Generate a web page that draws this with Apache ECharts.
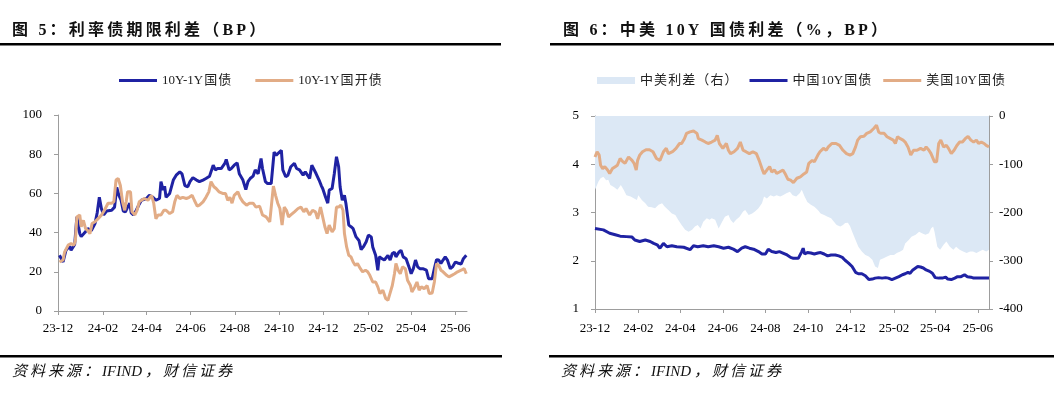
<!DOCTYPE html>
<html>
<head>
<meta charset="utf-8">
<script src="https://cdn.jsdelivr.net/npm/echarts@6/dist/echarts.min.js"></script>
<style>
html,body{margin:0;padding:0;background:#fff;}
#c{width:1054px;height:394px;}
</style>
</head>
<body>
<div id="c"></div>
<script>
// ---------- DATA ----------
const tickDates = ['2023-12-01','2024-02-01','2024-04-01','2024-06-01','2024-08-01','2024-10-01','2024-12-01','2025-02-01','2025-04-01','2025-06-01'];
const tickLabels = ['23-12','24-02','24-04','24-06','24-08','24-10','24-12','25-02','25-04','25-06'];
const xMinDate = '2023-12-01';
const xMaxDate = '2025-06-17';

// 图5: 10Y-1Y 国债 (BP)
const cgbTerm = [['2023-12-03',28.4],['2023-12-08',25],['2023-12-12',31],['2023-12-17',33],['2023-12-19',31],['2023-12-24',34],['2023-12-27',48],['2023-12-31',39.5],['2024-01-02',38],['2024-01-07',40],['2024-01-11',42],['2024-01-16',41],['2024-01-21',44.6],['2024-01-24',50],['2024-01-27',58],['2024-01-30',52],['2024-02-02',49],['2024-02-06',51],['2024-02-13',51.4],['2024-02-17',53],['2024-02-20',63],['2024-02-23',59],['2024-02-26',56.5],['2024-02-29',51],['2024-03-03',50.6],['2024-03-06',53],['2024-03-09',55],['2024-03-11',50],['2024-03-14',49],['2024-03-18',51.4],['2024-03-22',54.5],['2024-03-25',56.5],['2024-04-01',57.4],['2024-04-05',59],['2024-04-10',58],['2024-04-14',56.5],['2024-04-19',57.4],['2024-04-21',66],['2024-04-24',61.7],['2024-04-26',63.7],['2024-04-28',58],['2024-05-03',60],['2024-05-05',60],['2024-05-08',66.8],['2024-05-12',69.3],['2024-05-17',71],['2024-05-20',70],['2024-05-24',64],['2024-05-28',63.4],['2024-05-31',66],['2024-06-04',68],['2024-06-09',66.8],['2024-06-13',66],['2024-06-18',66.8],['2024-06-22',67.6],['2024-06-27',68.8],['2024-07-02',74.4],['2024-07-05',72],['2024-07-08',72.7],['2024-07-13',72.7],['2024-07-18',75.3],['2024-07-20',77.3],['2024-07-24',72],['2024-07-27',72.7],['2024-07-31',74.4],['2024-08-04',75.6],['2024-08-07',70],['2024-08-12',66.8],['2024-08-16',62],['2024-08-19',66],['2024-08-22',67.6],['2024-08-26',68.8],['2024-08-29',72],['2024-09-02',70],['2024-09-06',77.8],['2024-09-08',72.7],['2024-09-12',66],['2024-09-15',65],['2024-09-20',65],['2024-09-24',81],['2024-09-27',79.5],['2024-09-29',80.4],['2024-10-04',82],['2024-10-06',72],['2024-10-10',68.5],['2024-10-13',69.3],['2024-10-17',73.6],['2024-10-22',75.3],['2024-10-25',72.7],['2024-10-29',72],['2024-11-03',69.3],['2024-11-06',71],['2024-11-12',67.6],['2024-11-15',74.4],['2024-11-17',75.3],['2024-11-21',70],['2024-11-25',66.8],['2024-11-28',64],['2024-11-30',62.5],['2024-12-04',58],['2024-12-07',55],['2024-12-09',61.7],['2024-12-13',62.5],['2024-12-16',70],['2024-12-19',78.7],['2024-12-22',73.6],['2024-12-24',63.4],['2024-12-27',56.5],['2024-12-30',59],['2025-01-01',55],['2025-01-05',43.8],['2025-01-08',43],['2025-01-11',42],['2025-01-15',37.8],['2025-01-19',36],['2025-01-22',31.3],['2025-01-25',32.7],['2025-01-29',35.3],['2025-02-01',38.7],['2025-02-05',37.8],['2025-02-07',32.7],['2025-02-11',28.4],['2025-02-14',20.8],['2025-02-16',27.6],['2025-02-20',26.7],['2025-02-23',26],['2025-02-28',28.4],['2025-03-03',26],['2025-03-06',29.3],['2025-03-09',30],['2025-03-11',27.6],['2025-03-15',30],['2025-03-18',31],['2025-03-21',27.6],['2025-03-25',26.7],['2025-03-29',22.5],['2025-04-01',19],['2025-04-04',21.6],['2025-04-07',26],['2025-04-10',22.5],['2025-04-13',21.6],['2025-04-17',21.6],['2025-04-22',20.8],['2025-04-25',16.5],['2025-04-30',16.5],['2025-05-03',21.6],['2025-05-06',26.2],['2025-05-09',26],['2025-05-12',24.2],['2025-05-15',26],['2025-05-18',27.6],['2025-05-21',26],['2025-05-25',21.6],['2025-05-28',22.5],['2025-06-01',25],['2025-06-04',24.5],['2025-06-09',24],['2025-06-12',26.7],['2025-06-16',28.4]];

// 图5: 10Y-1Y 国开债 (BP)
const cdbTerm = [['2023-12-03',25],['2023-12-08',26],['2023-12-10',30],['2023-12-15',33.6],['2023-12-19',34.4],['2023-12-23',33.6],['2023-12-25',36],['2023-12-27',48],['2023-12-31',49],['2024-01-02',43],['2024-01-05',46.3],['2024-01-08',42],['2024-01-11',41],['2024-01-14',39.5],['2024-01-17',44.6],['2024-01-21',45.5],['2024-01-25',47],['2024-01-30',49],['2024-02-03',51.4],['2024-02-08',55],['2024-02-13',55],['2024-02-16',55.7],['2024-02-19',66.8],['2024-02-22',67.6],['2024-02-25',64],['2024-02-28',55.7],['2024-03-02',51.4],['2024-03-04',55.7],['2024-03-06',60.8],['2024-03-10',60.8],['2024-03-12',50.6],['2024-03-16',49],['2024-03-19',51.4],['2024-03-22',55.7],['2024-03-25',56.5],['2024-03-29',57.4],['2024-04-03',56.5],['2024-04-08',59],['2024-04-11',55],['2024-04-14',47],['2024-04-17',49],['2024-04-21',49],['2024-04-25',51.4],['2024-04-28',51.4],['2024-05-03',49.7],['2024-05-07',50.6],['2024-05-10',55.7],['2024-05-13',59],['2024-05-17',57.4],['2024-05-21',58],['2024-05-26',57.4],['2024-05-30',58],['2024-06-03',59],['2024-06-06',56.5],['2024-06-10',53.5],['2024-06-13',54],['2024-06-18',55.7],['2024-06-22',58],['2024-06-26',60.8],['2024-06-29',66],['2024-07-03',63.4],['2024-07-06',62.5],['2024-07-10',60.8],['2024-07-15',60],['2024-07-19',60],['2024-07-22',56.5],['2024-07-25',58],['2024-07-28',55],['2024-07-31',59],['2024-08-05',60.8],['2024-08-08',58],['2024-08-12',55.7],['2024-08-17',54],['2024-08-21',55],['2024-08-26',55],['2024-08-30',53],['2024-09-04',53.5],['2024-09-08',49],['2024-09-13',48],['2024-09-18',45.5],['2024-09-20',44.6],['2024-09-23',63.7],['2024-09-26',59],['2024-09-29',55],['2024-10-02',52.3],['2024-10-05',43.8],['2024-10-08',53],['2024-10-11',51.4],['2024-10-14',48],['2024-10-17',49],['2024-10-22',50.6],['2024-10-27',52.3],['2024-10-31',53],['2024-11-04',50.6],['2024-11-07',52.3],['2024-11-12',49],['2024-11-16',51.4],['2024-11-20',50.6],['2024-11-23',47],['2024-11-27',53],['2024-11-29',54],['2024-12-03',43],['2024-12-06',39.5],['2024-12-09',43.8],['2024-12-13',40.4],['2024-12-16',42],['2024-12-19',53],['2024-12-22',53],['2024-12-25',54],['2024-12-28',51.4],['2024-12-30',39.5],['2025-01-02',32.7],['2025-01-05',28.4],['2025-01-08',27.6],['2025-01-11',25],['2025-01-14',23.3],['2025-01-17',24.2],['2025-01-21',21.6],['2025-01-24',20],['2025-01-28',20.8],['2025-01-31',20],['2025-02-03',18.2],['2025-02-07',14.8],['2025-02-11',14.8],['2025-02-14',12.3],['2025-02-17',8.9],['2025-02-21',10.6],['2025-02-25',6.3],['2025-02-28',5.5],['2025-03-02',8],['2025-03-06',13],['2025-03-09',19],['2025-03-11',24.2],['2025-03-14',20.8],['2025-03-17',19],['2025-03-20',22.5],['2025-03-24',21.6],['2025-03-27',15.7],['2025-03-31',13],['2025-04-02',9.7],['2025-04-06',12.3],['2025-04-09',14.8],['2025-04-12',10.6],['2025-04-15',12.3],['2025-04-19',11.4],['2025-04-23',13],['2025-04-26',8.9],['2025-04-30',9.2],['2025-05-03',14.8],['2025-05-06',24.2],['2025-05-09',23.3],['2025-05-12',20.8],['2025-05-15',20],['2025-05-20',18.2],['2025-05-23',17.4],['2025-05-27',18.2],['2025-05-31',19],['2025-06-04',20],['2025-06-09',20.8],['2025-06-13',21.6],['2025-06-16',19]];

// 图6: 中国10Y国债 (%)
const cn10y = [['2023-12-01',2.67],['2023-12-13',2.64],['2023-12-22',2.57],['2023-12-30',2.54],['2024-01-06',2.51],['2024-01-15',2.50],['2024-01-23',2.49],['2024-01-27',2.43],['2024-02-03',2.40],['2024-02-11',2.43],['2024-02-18',2.40],['2024-02-23',2.36],['2024-02-28',2.33],['2024-03-03',2.26],['2024-03-08',2.36],['2024-03-13',2.29],['2024-03-20',2.31],['2024-03-27',2.29],['2024-04-06',2.28],['2024-04-15',2.23],['2024-04-20',2.31],['2024-04-26',2.29],['2024-05-04',2.31],['2024-05-11',2.29],['2024-05-19',2.31],['2024-05-26',2.29],['2024-06-02',2.26],['2024-06-09',2.28],['2024-06-16',2.24],['2024-06-22',2.19],['2024-06-28',2.26],['2024-07-03',2.29],['2024-07-09',2.26],['2024-07-15',2.24],['2024-07-22',2.19],['2024-07-27',2.14],['2024-08-01',2.14],['2024-08-05',2.24],['2024-08-10',2.19],['2024-08-16',2.17],['2024-08-21',2.19],['2024-08-26',2.16],['2024-09-01',2.12],['2024-09-06',2.07],['2024-09-10',2.05],['2024-09-17',2.05],['2024-09-22',2.19],['2024-09-24',2.26],['2024-09-26',2.14],['2024-09-30',2.17],['2024-10-05',2.16],['2024-10-10',2.14],['2024-10-15',2.16],['2024-10-19',2.17],['2024-10-24',2.14],['2024-10-29',2.10],['2024-11-03',2.12],['2024-11-09',2.12],['2024-11-14',2.10],['2024-11-19',2.07],['2024-11-23',2.01],['2024-11-28',1.95],['2024-12-03',1.88],['2024-12-08',1.76],['2024-12-12',1.73],['2024-12-17',1.73],['2024-12-22',1.69],['2024-12-27',1.61],['2025-01-01',1.62],['2025-01-05',1.64],['2025-01-10',1.65],['2025-01-15',1.64],['2025-01-20',1.65],['2025-01-24',1.64],['2025-01-29',1.61],['2025-02-03',1.64],['2025-02-08',1.67],['2025-02-13',1.71],['2025-02-17',1.73],['2025-02-21',1.76],['2025-02-24',1.74],['2025-02-28',1.81],['2025-03-04',1.85],['2025-03-07',1.88],['2025-03-11',1.87],['2025-03-15',1.85],['2025-03-19',1.81],['2025-03-24',1.78],['2025-03-28',1.74],['2025-04-01',1.65],['2025-04-06',1.64],['2025-04-11',1.64],['2025-04-16',1.66],['2025-04-19',1.62],['2025-04-24',1.61],['2025-04-29',1.64],['2025-05-03',1.67],['2025-05-08',1.67],['2025-05-13',1.71],['2025-05-17',1.67],['2025-05-22',1.66],['2025-05-26',1.64],['2025-06-02',1.64],['2025-06-10',1.64],['2025-06-17',1.64]];

// 图6: 美国10Y国债 (%)
const us10y = [['2023-12-01',4.15],['2023-12-04',4.26],['2023-12-07',4.19],['2023-12-09',3.98],['2023-12-12',3.91],['2023-12-15',3.95],['2023-12-19',3.88],['2023-12-22',3.81],['2023-12-26',3.91],['2023-12-30',3.95],['2024-01-02',3.98],['2024-01-06',4.12],['2024-01-10',4.05],['2024-01-13',4.02],['2024-01-18',4.15],['2024-01-23',4.08],['2024-01-26',4.02],['2024-01-29',3.88],['2024-01-31',4.08],['2024-02-03',4.19],['2024-02-07',4.26],['2024-02-12',4.30],['2024-02-17',4.30],['2024-02-22',4.26],['2024-02-27',4.12],['2024-03-03',4.08],['2024-03-08',4.26],['2024-03-12',4.33],['2024-03-15',4.22],['2024-03-21',4.26],['2024-03-26',4.33],['2024-03-31',4.43],['2024-04-03',4.43],['2024-04-07',4.53],['2024-04-10',4.64],['2024-04-15',4.67],['2024-04-20',4.69],['2024-04-25',4.64],['2024-04-27',4.53],['2024-05-02',4.50],['2024-05-07',4.46],['2024-05-11',4.43],['2024-05-16',4.46],['2024-05-21',4.50],['2024-05-24',4.60],['2024-05-27',4.43],['2024-06-01',4.33],['2024-06-06',4.43],['2024-06-09',4.29],['2024-06-12',4.22],['2024-06-17',4.26],['2024-06-22',4.33],['2024-06-26',4.46],['2024-06-30',4.29],['2024-07-04',4.26],['2024-07-09',4.22],['2024-07-14',4.26],['2024-07-19',4.22],['2024-07-23',4.08],['2024-07-27',3.91],['2024-07-30',3.80],['2024-08-03',3.88],['2024-08-07',3.95],['2024-08-10',3.84],['2024-08-14',3.88],['2024-08-17',3.81],['2024-08-21',3.84],['2024-08-26',3.88],['2024-08-29',3.81],['2024-09-02',3.69],['2024-09-06',3.67],['2024-09-10',3.62],['2024-09-15',3.71],['2024-09-20',3.74],['2024-09-25',3.80],['2024-09-29',3.84],['2024-10-02',4.02],['2024-10-07',4.08],['2024-10-10',4.05],['2024-10-15',4.19],['2024-10-18',4.26],['2024-10-23',4.33],['2024-10-27',4.29],['2024-10-30',4.36],['2024-11-04',4.43],['2024-11-10',4.43],['2024-11-15',4.39],['2024-11-20',4.29],['2024-11-25',4.22],['2024-11-30',4.19],['2024-12-04',4.22],['2024-12-08',4.36],['2024-12-11',4.50],['2024-12-15',4.57],['2024-12-20',4.58],['2024-12-24',4.64],['2024-12-29',4.67],['2025-01-03',4.74],['2025-01-07',4.81],['2025-01-10',4.67],['2025-01-13',4.64],['2025-01-18',4.64],['2025-01-22',4.57],['2025-01-27',4.53],['2025-01-31',4.50],['2025-02-03',4.43],['2025-02-06',4.57],['2025-02-10',4.53],['2025-02-14',4.50],['2025-02-17',4.46],['2025-02-21',4.36],['2025-02-25',4.19],['2025-03-01',4.29],['2025-03-06',4.29],['2025-03-11',4.33],['2025-03-16',4.29],['2025-03-19',4.36],['2025-03-23',4.29],['2025-03-26',4.22],['2025-03-31',4.05],['2025-04-03',4.05],['2025-04-06',4.43],['2025-04-09',4.50],['2025-04-13',4.36],['2025-04-17',4.39],['2025-04-20',4.33],['2025-04-24',4.22],['2025-04-28',4.29],['2025-05-02',4.39],['2025-05-06',4.46],['2025-05-10',4.46],['2025-05-14',4.53],['2025-05-18',4.58],['2025-05-22',4.50],['2025-05-26',4.46],['2025-05-30',4.50],['2025-06-02',4.43],['2025-06-06',4.46],['2025-06-10',4.43],['2025-06-13',4.39],['2025-06-17',4.36]];

// 图6: 中美利差 (BP, 右轴)
const cnUsSpread = [['2023-12-01',-153],['2023-12-03',-157],['2023-12-06',-136],['2023-12-09',-129],['2023-12-13',-126],['2023-12-17',-133],['2023-12-20',-132],['2023-12-23',-143],['2023-12-28',-147],['2024-01-02',-153],['2024-01-07',-143],['2024-01-11',-153],['2024-01-15',-164],['2024-01-21',-167],['2024-01-26',-171],['2024-01-30',-174],['2024-02-01',-164],['2024-02-06',-174],['2024-02-11',-181],['2024-02-15',-188],['2024-02-20',-189],['2024-02-25',-191],['2024-03-01',-184],['2024-03-06',-181],['2024-03-10',-188],['2024-03-15',-195],['2024-03-20',-202],['2024-03-25',-205],['2024-03-29',-215],['2024-04-03',-226],['2024-04-08',-236],['2024-04-13',-240],['2024-04-18',-236],['2024-04-22',-229],['2024-04-26',-226],['2024-04-30',-233],['2024-05-04',-219],['2024-05-09',-212],['2024-05-13',-215],['2024-05-16',-212],['2024-05-21',-215],['2024-05-26',-233],['2024-05-31',-219],['2024-06-04',-209],['2024-06-09',-205],['2024-06-12',-215],['2024-06-16',-222],['2024-06-20',-215],['2024-06-25',-209],['2024-06-30',-198],['2024-07-03',-195],['2024-07-08',-205],['2024-07-13',-202],['2024-07-17',-198],['2024-07-22',-191],['2024-07-27',-181],['2024-07-30',-167],['2024-08-03',-171],['2024-08-08',-164],['2024-08-13',-167],['2024-08-17',-164],['2024-08-22',-167],['2024-08-26',-164],['2024-08-31',-160],['2024-09-05',-157],['2024-09-09',-164],['2024-09-14',-167],['2024-09-19',-160],['2024-09-22',-153],['2024-09-26',-167],['2024-09-30',-178],['2024-10-05',-184],['2024-10-10',-188],['2024-10-15',-195],['2024-10-19',-202],['2024-10-24',-205],['2024-10-29',-209],['2024-11-03',-212],['2024-11-07',-219],['2024-11-11',-226],['2024-11-16',-229],['2024-11-20',-226],['2024-11-23',-222],['2024-11-27',-221],['2024-11-30',-228],['2024-12-04',-243],['2024-12-08',-257],['2024-12-12',-271],['2024-12-17',-281],['2024-12-22',-288],['2024-12-27',-291],['2025-01-01',-298],['2025-01-05',-312],['2025-01-09',-315],['2025-01-12',-298],['2025-01-17',-295],['2025-01-22',-291],['2025-01-27',-288],['2025-02-01',-288],['2025-02-05',-284],['2025-02-10',-281],['2025-02-14',-277],['2025-02-17',-264],['2025-02-22',-257],['2025-02-26',-250],['2025-03-04',-246],['2025-03-09',-240],['2025-03-13',-243],['2025-03-18',-246],['2025-03-23',-243],['2025-03-26',-233],['2025-03-29',-229],['2025-03-31',-240],['2025-04-04',-271],['2025-04-08',-277],['2025-04-13',-267],['2025-04-17',-260],['2025-04-22',-271],['2025-04-27',-277],['2025-05-01',-271],['2025-05-06',-277],['2025-05-11',-281],['2025-05-16',-284],['2025-05-21',-281],['2025-05-25',-281],['2025-05-30',-284],['2025-06-03',-281],['2025-06-08',-277],['2025-06-13',-281],['2025-06-17',-277]];

const names5 = ['10Y-1Y国债','10Y-1Y国开债'];
const names6 = ['中美利差（右）','中国10Y国债','美国10Y国债'];
const title5 = '图 5：利率债期限利差（BP）';
const title6 = '图 6：中美 10Y 国债利差（%，BP）';
const sourceText = '资料来源：IFIND，财信证券';

// ---------- CHART ----------
const BLUE = '#1f22a3';
const TAN = '#e2ac86';
const AREA = '#dce8f5';
const AXIS = '#9d9d9d';
const SERIF = "'Liberation Serif','Times New Roman','Noto Sans CJK SC',serif";
const LINE_ICON = 'path://M0,0H38V3H0Z';
const spaced = s => s.split('').join('\u2009');
const isAscii = c => c.charCodeAt(0) < 128;
// space only where a non-ASCII (CJK) character is involved
const spacedCJK = (s, sp) => {
  const ch = s.split('');
  let out = '';
  ch.forEach((c, i) => {
    out += c;
    if (i < ch.length - 1 && !(isAscii(c) && isAscii(ch[i + 1]))) out += sp;
  });
  return out;
};

const ts = s => echarts.number.parseDate(s).getTime();
const tickTs = tickDates.map(ts);
const toXY = arr => arr.map(d => [ts(d[0]), d[1]]);
const fmtX = v => { const i = tickTs.indexOf(v); return i >= 0 ? tickLabels[i] : ''; };

function xAxisCfg(gi, margin) {
  return {
    type: 'value', gridIndex: gi, min: ts(xMinDate), max: ts(xMaxDate),
    axisLine: { show: true, onZero: false, lineStyle: { color: AXIS, width: 1 } },
    axisTick: { show: true, length: 4, lineStyle: { color: AXIS }, customValues: tickTs },
    axisLabel: { customValues: tickTs, formatter: fmtX, color: '#000', fontFamily: SERIF, fontSize: 13, margin: margin, hideOverlap: false },
    splitLine: { show: false }
  };
}
function yAxisCfg(gi, min, max, interval, pos, margin) {
  return {
    type: 'value', gridIndex: gi, min, max, interval, position: pos,
    axisLine: { show: true, onZero: false, lineStyle: { color: AXIS, width: 1 } },
    axisTick: { show: true, length: 4, lineStyle: { color: AXIS } },
    axisLabel: { color: '#000', fontFamily: SERIF, fontSize: 13, margin: margin },
    splitLine: { show: false }
  };
}
const lineSeries = (name, data, color, xi, yi, z) => ({
  name, type: 'line', data: toXY(data), xAxisIndex: xi, yAxisIndex: yi,
  symbol: 'none', showSymbol: false, smooth: false, z,
  lineStyle: { color, width: 3 }, itemStyle: { color },
  emphasis: { disabled: true }
});

const chart = echarts.init(document.getElementById('c'), null, { renderer: 'canvas' });
chart.setOption({
  animation: false,
  backgroundColor: '#fff',
  grid: [
    { left: 58, top: 115, width: 409, height: 196 },
    { left: 595, top: 116, width: 394, height: 193 }
  ],
  legend: [
    { left: 119, top: 74, padding: 0, itemWidth: 38, itemHeight: 7, itemGap: 24, symbolKeepAspect: true,
      formatter: n => spacedCJK(n, '\u200A'),
      textStyle: { fontFamily: SERIF, fontSize: 13, color: '#222' },
      data: names5.map(n => ({ name: n, icon: LINE_ICON })) },
    { left: 597, top: 74, padding: 0, itemWidth: 38, itemHeight: 7, itemGap: 12, symbolKeepAspect: true,
      formatter: n => spacedCJK(n, '\u200A'),
      textStyle: { fontFamily: SERIF, fontSize: 13, color: '#222' },
      data: [{ name: names6[0], icon: 'rect' }, { name: names6[1], icon: LINE_ICON }, { name: names6[2], icon: LINE_ICON }] }
  ],
  xAxis: [ xAxisCfg(0, 11), xAxisCfg(1, 13) ],
  yAxis: [
    yAxisCfg(0, 0, 100, 20, 'left', 16),
    yAxisCfg(1, 1, 5, 1, 'left', 16),
    yAxisCfg(1, -400, 0, 100, 'right', 10)
  ],
  series: [
    lineSeries(names5[0], cgbTerm, BLUE, 0, 0, 2),
    lineSeries(names5[1], cdbTerm, TAN, 0, 0, 3),
    {
      name: names6[0], type: 'line', data: toXY(cnUsSpread), xAxisIndex: 1, yAxisIndex: 2,
      symbol: 'none', showSymbol: false, z: 1,
      lineStyle: { width: 0, color: AREA }, itemStyle: { color: AREA },
      areaStyle: { color: AREA, opacity: 1, origin: 'end' },
      emphasis: { disabled: true }
    },
    lineSeries(names6[1], cn10y, BLUE, 1, 1, 2),
    lineSeries(names6[2], us10y, TAN, 1, 1, 3)
  ],
  graphic: [
    { type: 'text', left: 12, top: 23, style: { text: spaced(title5), font: "bold 16px " + SERIF, fill: '#111' } },
    { type: 'text', left: 563, top: 23, style: { text: spaced(title6), font: "bold 16px " + SERIF, fill: '#111' } },
    { type: 'rect', shape: { x: 0, y: 43, width: 501, height: 2.5 }, style: { fill: '#000' } },
    { type: 'rect', shape: { x: 550, y: 43, width: 504, height: 2.5 }, style: { fill: '#000' } },
    { type: 'rect', shape: { x: 0, y: 355, width: 502, height: 2.5 }, style: { fill: '#000' } },
    { type: 'rect', shape: { x: 549, y: 355, width: 505, height: 2.5 }, style: { fill: '#000' } },
    { type: 'text', left: 12, top: 365, style: { text: spacedCJK(sourceText, '\u2009'), font: "italic 15px " + SERIF, fill: '#111' } },
    { type: 'text', left: 561, top: 365, style: { text: spacedCJK(sourceText, '\u2009'), font: "italic 15px " + SERIF, fill: '#111' } }
  ]
});
</script>
</body>
</html>
